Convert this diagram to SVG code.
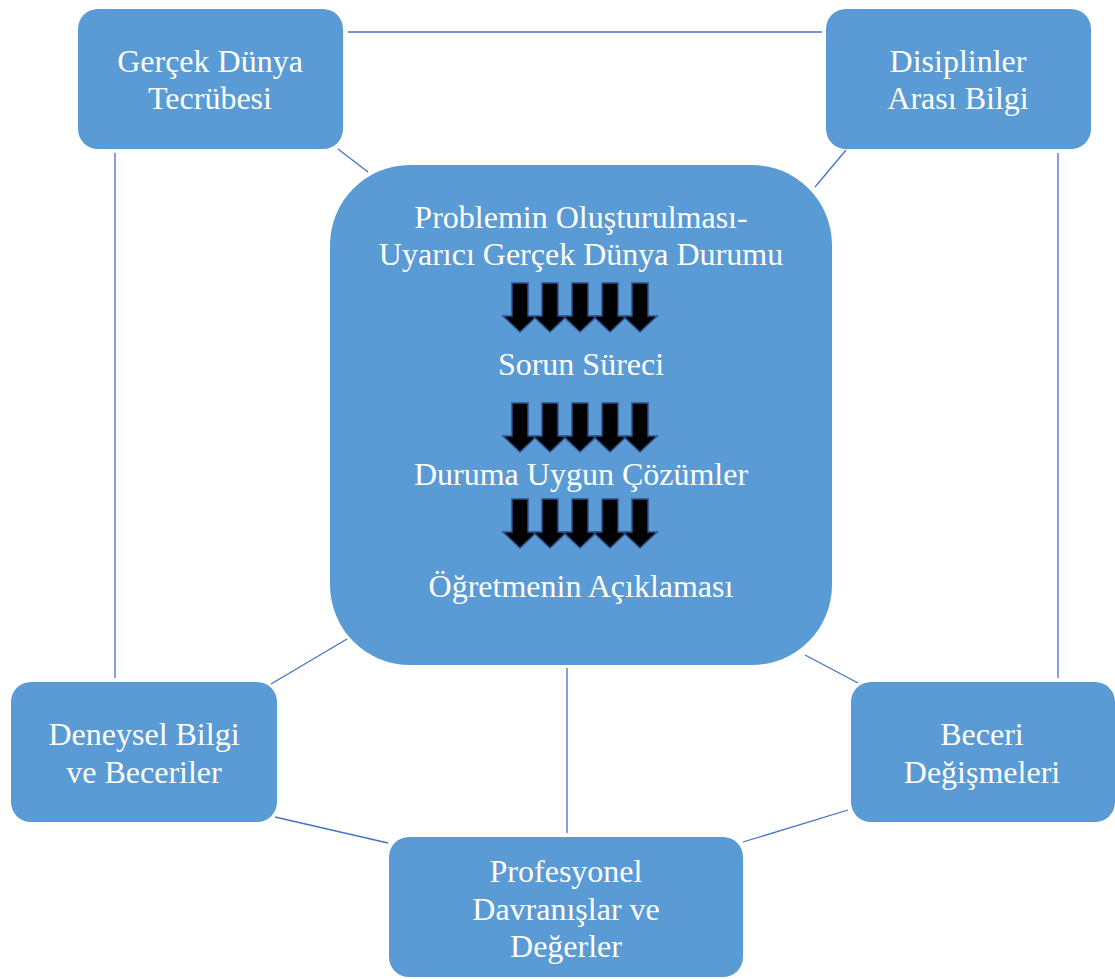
<svg xmlns="http://www.w3.org/2000/svg" width="1115" height="979" viewBox="0 0 1115 979">
<style>
.box{fill:#5B9BD5;}
.t{font-family:"Liberation Serif","Times New Roman",serif;font-size:32px;fill:#fff;text-anchor:middle;}
.c line{stroke:#4472C4;stroke-width:1.3;}
.arr{fill:#000;stroke:#2F528F;stroke-width:1.5;}
</style>
<defs>
<path id="a" class="arr" d="M-8,0 H8 V33 H17 L0,49 L-17,33 H-8 Z"/>
<g id="a5">
<use href="#a" x="520"/><use href="#a" x="550"/><use href="#a" x="580"/><use href="#a" x="610"/><use href="#a" x="640"/>
</g>
</defs>
<rect width="1115" height="979" fill="#fff"/>
<g class="c" id="connectors">
<line x1="348" y1="32" x2="822" y2="32"/>
<line x1="338" y1="149" x2="368" y2="172"/>
<line x1="846" y1="150" x2="815" y2="187"/>
<line x1="115" y1="153" x2="115" y2="678"/>
<line x1="1058" y1="153" x2="1058" y2="678"/>
<line x1="271" y1="684" x2="347" y2="639"/>
<line x1="805" y1="655" x2="858" y2="683"/>
<line x1="275" y1="817" x2="388" y2="843"/>
<line x1="567" y1="668" x2="567" y2="833"/>
<line x1="743" y1="842" x2="848" y2="810"/>
</g>
<g id="gercek">
<rect class="box" x="78" y="9" width="265" height="140" rx="20"/>
<text class="t" x="210" y="72">Gerçek Dünya</text>
<text class="t" x="210" y="109">Tecrübesi</text>
</g>
<g id="disiplinler">
<rect class="box" x="826" y="9" width="265" height="140" rx="20"/>
<text class="t" x="958" y="72">Disiplinler</text>
<text class="t" x="958" y="109">Arası Bilgi</text>
</g>
<g id="center">
<rect class="box" x="330" y="165" width="502" height="500" rx="80"/>
<text class="t" x="581" y="228">Problemin Oluşturulması-</text>
<text class="t" x="581" y="265">Uyarıcı Gerçek Dünya Durumu</text>
<use href="#a5" y="283"/>
<text class="t" x="581" y="375">Sorun Süreci</text>
<use href="#a5" y="403"/>
<text class="t" x="581" y="485">Duruma Uygun Çözümler</text>
<use href="#a5" y="499"/>
<text class="t" x="581" y="597">Öğretmenin Açıklaması</text>
</g>
<g id="deneysel">
<rect class="box" x="11" y="682" width="266" height="140" rx="20"/>
<text class="t" x="144" y="745">Deneysel Bilgi</text>
<text class="t" x="144" y="783">ve Beceriler</text>
</g>
<g id="beceri">
<rect class="box" x="851" y="682" width="264" height="140" rx="20"/>
<text class="t" x="982" y="745">Beceri</text>
<text class="t" x="982" y="783">Değişmeleri</text>
</g>
<g id="profesyonel">
<rect class="box" x="389" y="837" width="354" height="140" rx="20"/>
<text class="t" x="566" y="882">Profesyonel</text>
<text class="t" x="566" y="920">Davranışlar ve</text>
<text class="t" x="566" y="957">Değerler</text>
</g>
</svg>
